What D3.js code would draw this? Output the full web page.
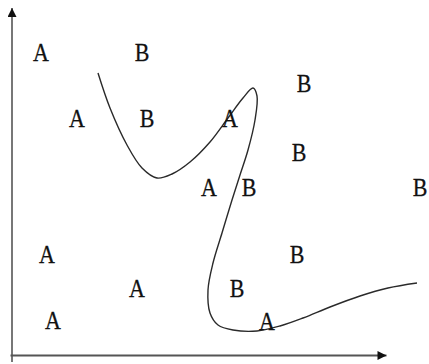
<!DOCTYPE html>
<html>
<head>
<meta charset="utf-8">
<script src="https://cdn.jsdelivr.net/npm/d3@7"></script>
<style>
  html, body { margin: 0; padding: 0; background: #fff; }
  svg { display: block; }
</style>
</head>
<body>
<div id="chart"></div>
<script>
// letter positions, in units measured from the origin of the axes
var aPoints = [[29, 303], [65, 237], [218, 237], [197, 168], [35, 101], [125, 67], [41, 35], [255, 34]];
var bPoints = [[130, 303], [292, 272], [135, 237], [287, 203], [237, 168], [408, 168], [285, 101], [225, 67]];

// the hand drawn boundary curve
var curveX = [86, 98, 115, 130, 145, 160, 178, 198, 216, 231, 241, 245, 243, 236, 228, 220, 210, 201, 196, 198, 206, 221, 245, 268, 291, 318, 348, 376, 405];
var curveY = [282, 247, 210, 187, 177, 181, 193, 213, 237, 257, 267, 259, 235, 205, 180, 155, 122, 92, 65, 42, 30, 25, 24, 29, 37, 48, 59, 67, 72];

var width = 429, height = 364;

var x = d3.scaleLinear().domain([0, 374]).range([12, 386]);
var y = d3.scaleLinear().domain([0, 347]).range([355, 8]);

var svg = d3.select("#chart").append("svg")
  .attr("width", width)
  .attr("height", height);

var defs = svg.append("defs");
defs.append("marker")
  .attr("id", "arrow")
  .attr("viewBox", "0 0 10 10")
  .attr("refX", 10)
  .attr("refY", 5)
  .attr("markerUnits", "userSpaceOnUse")
  .attr("markerWidth", 11)
  .attr("markerHeight", 9)
  .attr("orient", "auto")
  .append("path")
  .attr("d", "M0,0L10,5L0,10Z")
  .attr("fill", "#111");

// axes without ticks, just the arrowed lines
var xAxis = d3.axisBottom(x.copy().domain([-2, 374]).range([10, 386])).tickValues([]).tickSizeOuter(0);
var yAxis = d3.axisLeft(y.copy().domain([-7, 347]).range([362, 8])).tickValues([]).tickSizeOuter(0);

var gx = svg.append("g").attr("transform", "translate(0," + y(0) + ")").call(xAxis);
gx.select(".domain")
  .attr("stroke", "#555")
  .attr("stroke-width", 2)
  .attr("marker-end", "url(#arrow)");

var gy = svg.append("g").attr("transform", "translate(" + x(0) + ",0)").call(yAxis);
// draw the vertical line bottom to top so the arrow ends at the top
gy.select(".domain")
  .attr("d", "M0,362V8")
  .attr("stroke", "#555")
  .attr("stroke-width", 1.6)
  .attr("marker-end", "url(#arrow)");

var pts = curveX.map(function(d, i) { return [d, curveY[i]]; });

var line = d3.line()
  .x(function(d) { return x(d[0]); })
  .y(function(d) { return y(d[1]); })
  .curve(d3.curveCatmullRom.alpha(0.5));

svg.append("path")
  .datum(pts)
  .attr("d", line)
  .attr("fill", "none")
  .attr("stroke", "#2a2a2a")
  .attr("stroke-width", 1.4);

function drawLetters(data, letter) {
  svg.append("g").selectAll("text")
    .data(data)
    .join("text")
    .attr("transform", function(d) {
      return "translate(" + x(d[0]) + "," + y(d[1]) + ") scale(1,1.18)";
    })
    .attr("text-anchor", "middle")
    .attr("dominant-baseline", "central")
    .attr("font-family", "'Liberation Serif', 'DejaVu Serif', serif")
    .attr("font-size", 22)
    .attr("fill", "#111")
    .attr("stroke", "#111")
    .attr("stroke-width", 0.25)
    .text(letter);
}

drawLetters(aPoints, "A");
drawLetters(bPoints, "B");
</script>
</body>
</html>
